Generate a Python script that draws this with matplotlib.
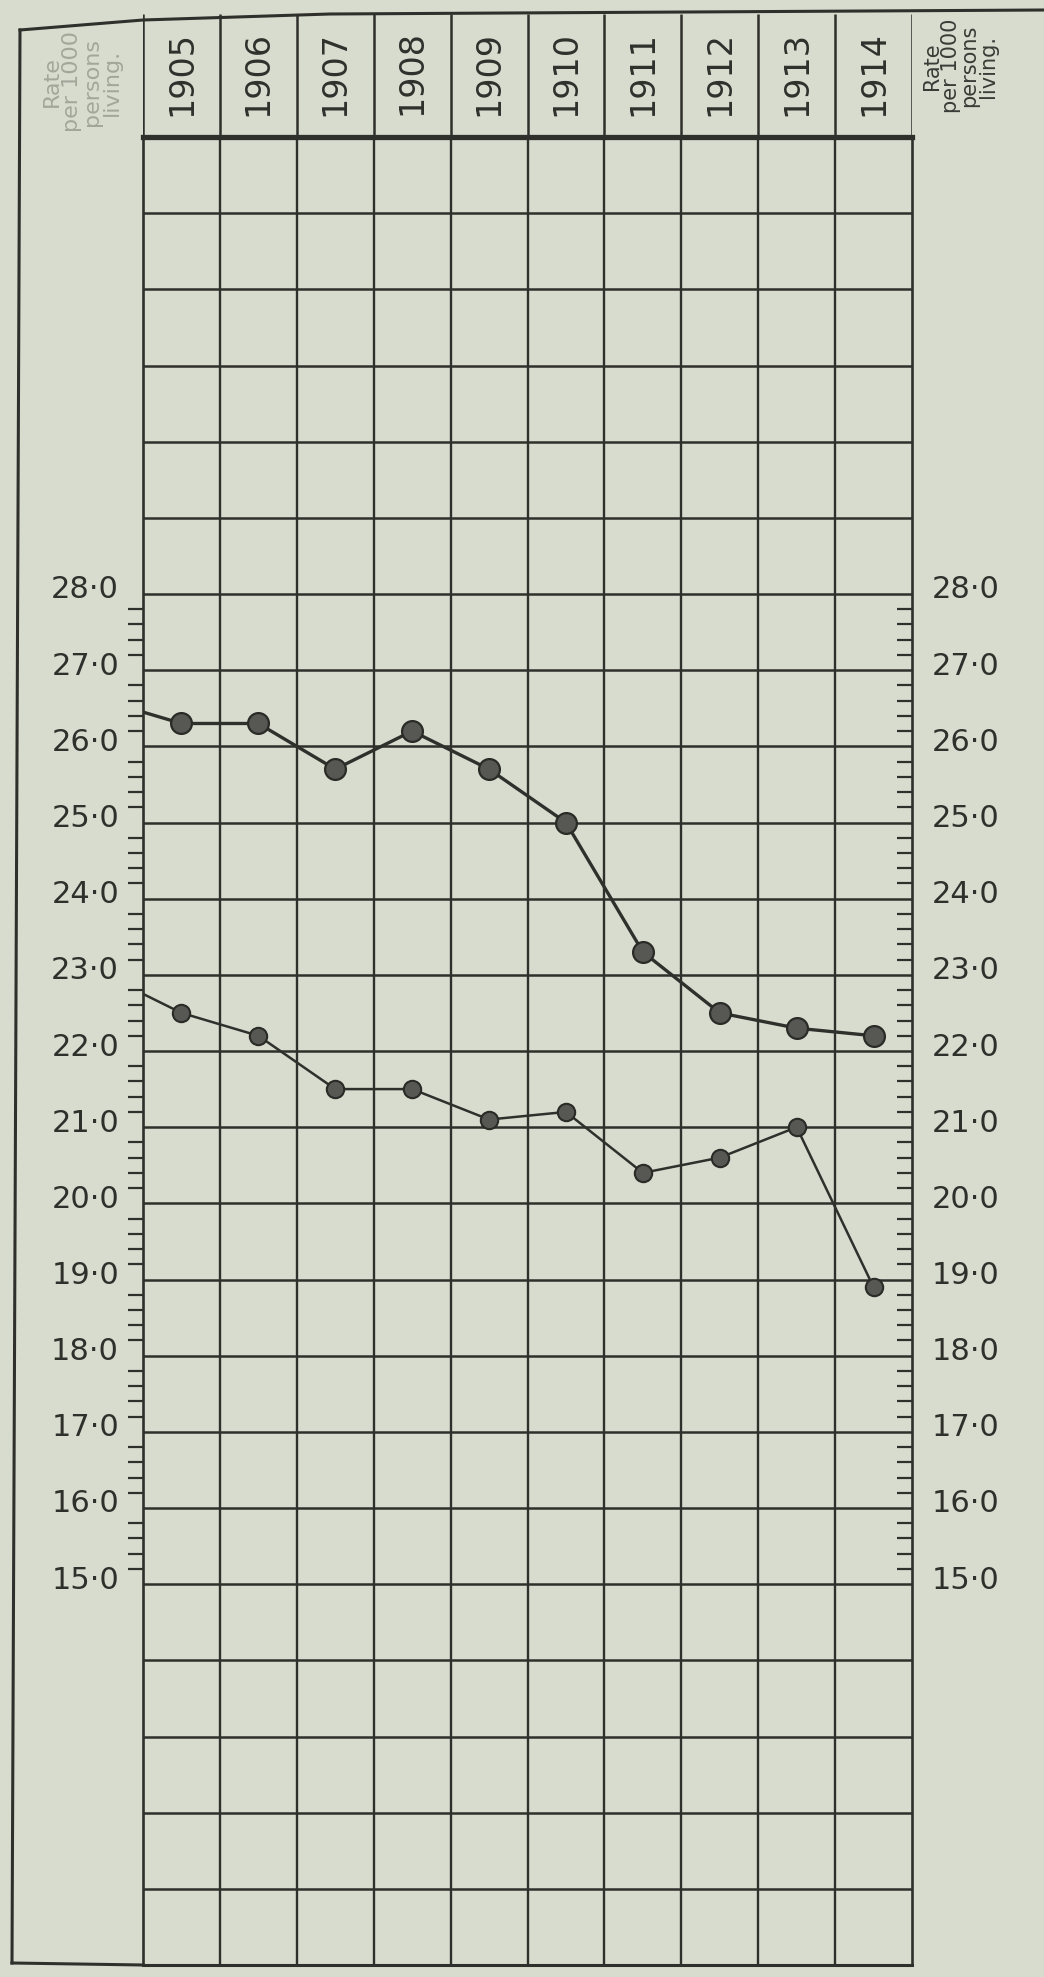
import matplotlib
matplotlib.use("Agg")
import matplotlib.pyplot as plt
import matplotlib.transforms as mtransforms
from matplotlib.lines import Line2D
import numpy as np

# values (rate per 1000 persons living)
years = ["1905", "1906", "1907", "1908", "1909", "1910", "1911", "1912", "1913", "1914"]
upper_rate = [26.3, 26.3, 25.7, 26.2, 25.7, 25.0, 23.3, 22.5, 22.3, 22.2]
lower_rate = [22.5, 22.2, 21.5, 21.5, 21.1, 21.2, 20.4, 20.6, 21.0, 18.9]
# where each line comes in at the left edge (carried over from 1904)
upper_lead = 26.45
lower_lead = 22.75
scale_labels = list(range(15, 29))
y_min, y_max = 10, 34

paper = "#d8dccf"
ink = "#2f302c"
dot_face = "#575853"
dot_edge = "#2a2b27"

W, H = 1044, 1977
fig = plt.figure(figsize=(W / 100, H / 100), dpi=100, facecolor=paper)
plt.rcParams["font.family"] = ["DejaVu Sans"]


def fx(px):
    return px / W


def fy(py):
    return 1 - py / H


x_left, x_right = 143, 912
head_top, head_bot = 14, 137
plot_bot = 1965

# main grid
ax = fig.add_axes([fx(x_left), fy(plot_bot), fx(x_right) - fx(x_left), fy(head_bot) - fy(plot_bot)])
ax.set_facecolor(paper)
ax.set_xlim(-0.5, len(years) - 0.5)
ax.set_ylim(y_min, y_max)
x = np.arange(len(years))

ax.hlines(np.arange(y_min + 1, y_max), -0.5, len(years) - 0.5, color=ink, lw=1.8, zorder=1)
ax.vlines(np.arange(0.5, len(years) - 0.5, 1), y_min, y_max, color=ink, lw=1.7, zorder=1)
for side, lw in [("left", 1.9), ("right", 1.9), ("top", 3.8), ("bottom", 2.2)]:
    ax.spines[side].set_linewidth(lw)
    ax.spines[side].set_color(ink)

# minor scale ticks every 0.2 between 15 and 28
minor = [v + k * 0.2 for v in scale_labels[:-1] for k in range(1, 5)]
ax.set_xticks([])
ax.set_yticks([])
ax.set_yticks(minor, minor=True)
ax.tick_params(axis="y", which="minor", direction="out", length=11, width=1.6,
               color=ink, left=True, right=False, labelleft=False)

axr = ax.twinx()
axr.set_ylim(y_min, y_max)
axr.set_yticks([])
axr.set_yticks(minor, minor=True)
axr.tick_params(axis="y", which="minor", direction="in", length=11, width=1.6,
                color=ink, right=True, left=False, labelright=False)
for s in axr.spines.values():
    s.set_visible(False)

# scale labels on both sides
lift = mtransforms.ScaledTranslation(0, 4 / 100, fig.dpi_scale_trans)
tl = mtransforms.blended_transform_factory(ax.transAxes, ax.transData) + lift
for v in scale_labels:
    lab = f"{v}\u00b70"
    ax.text(-24 / (x_right - x_left), v, lab, transform=tl, ha="right", va="center",
            fontsize=22, color=ink)
    ax.text(1 + 20 / (x_right - x_left), v, lab, transform=tl, ha="left", va="center",
            fontsize=22, color=ink)

# the two rate lines
ax.plot(np.r_[-0.5, x], np.r_[upper_lead, upper_rate], color=ink, lw=2.4, zorder=3,
        solid_capstyle="round")
ax.plot(x, upper_rate, "o", ms=15, mfc=dot_face, mec=dot_edge, mew=1.6, zorder=4)
ax.plot(np.r_[-0.5, x], np.r_[lower_lead, lower_rate], color=ink, lw=1.8, zorder=3,
        solid_capstyle="round")
ax.plot(x, lower_rate, "o", ms=12.5, mfc=dot_face, mec=dot_edge, mew=1.5, zorder=4)

# header with the years
hax = fig.add_axes([fx(x_left), fy(head_bot), fx(x_right) - fx(x_left), fy(head_top) - fy(head_bot)])
hax.set_xlim(-0.5, len(years) - 0.5)
hax.set_ylim(0, 1)
hax.axis("off")
hax.vlines(np.arange(-0.5, len(years), 1), 0, 1, color=ink, lw=1.8)
for i, yr in enumerate(years):
    hax.text(i, 0.52, yr, rotation=90, ha="center", va="center", fontsize=24, color=ink)

# side headings
fig.text(fx(960), fy(66), "Rate\nper 1000\npersons\nliving.", rotation=90, ha="center",
         va="center", multialignment="center", fontsize=15, color="#3a3b36", linespacing=0.9)
fig.text(fx(82), fy(82), "Rate\nper 1000\npersons\nliving.", rotation=90, ha="center",
         va="center", multialignment="center", fontsize=16, color="#a4a69c", linespacing=1.0)

# outer frame
frame = dict(color=ink, lw=2.2, transform=fig.transFigure)
fig.add_artist(Line2D([fx(20), fx(x_left), fx(330), fx(W)], [fy(30), fy(head_top + 6), fy(head_top), fy(10)], **frame))
fig.add_artist(Line2D([fx(20), fx(12)], [fy(30), fy(1963)], **frame))
fig.add_artist(Line2D([fx(12), fx(x_left)], [fy(1963), fy(plot_bot)], **frame))

fig.savefig("out.png", dpi=100, facecolor=paper)
